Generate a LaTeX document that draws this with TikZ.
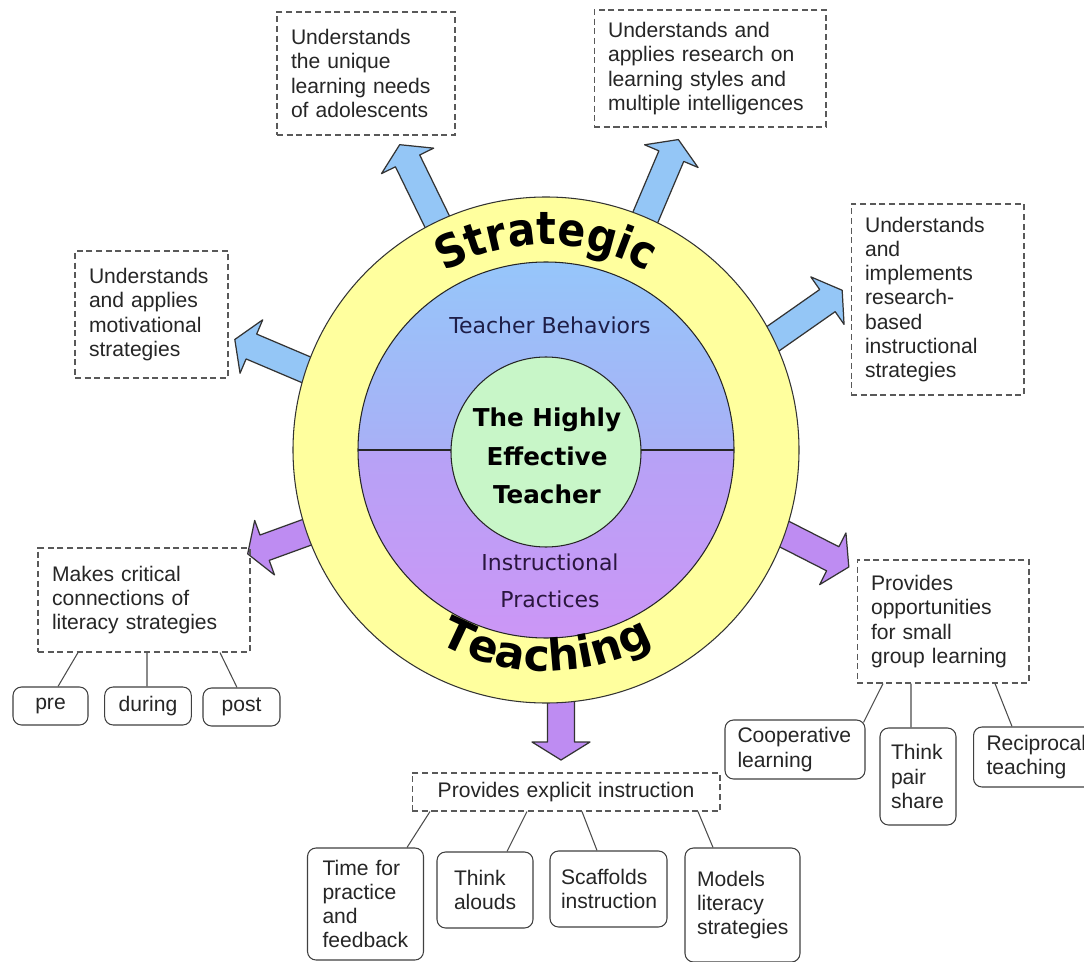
\documentclass[tikz,border=0pt]{standalone}
\usepackage{fontspec}
\setmainfont{Liberation Sans}
\newfontfamily\comicfont{DejaVu Sans}
\newfontfamily\narrowfont{DejaVu Sans Condensed}
\usepackage{tikz}
\usetikzlibrary{decorations.text}
\definecolor{ringyellow}{RGB}{255,255,158}
\definecolor{bluetop}{RGB}{150,198,250}
\definecolor{bluemid}{RGB}{168,176,246}
\definecolor{purpmid}{RGB}{182,162,246}
\definecolor{purpbot}{RGB}{204,150,246}
\definecolor{hubgreen}{RGB}{200,246,200}
\definecolor{arrowblue}{RGB}{148,198,246}
\definecolor{arrowpurple}{RGB}{190,140,242}
\definecolor{textnavy}{RGB}{30,30,72}
\definecolor{textplum}{RGB}{42,22,62}
\newcommand\boxtext{\fontsize{12pt}{13.8pt}\selectfont}
\newcommand\ringword{\narrowfont\bfseries\fontsize{26pt}{30pt}\selectfont}
\newcommand\ringwordb{\comicfont\bfseries\fontsize{25pt}{30pt}\selectfont}
\newcommand\circtext{\comicfont\fontsize{12.5pt}{21pt}\selectfont}
\newcommand\hubtext{\comicfont\bfseries\fontsize{14pt}{22pt}\selectfont}
\tikzset{
  dbox/.style={draw=black!65, dash pattern=on 3.5pt off 2pt, line width=0.6pt, align=left,
    inner xsep=0.28cm, inner ysep=0pt, font=\boxtext, text=black!85},
  rbox/.style={draw=black!75, rounded corners=0.17cm, line width=0.6pt, align=left,
    inner xsep=0.28cm, inner ysep=0pt, font=\boxtext, text=black!85},
  link/.style={draw=black!70, line width=0.6pt},
  pics/fatarrow/.style={code={
    \draw[pic actions, line join=round] (-25,-13.5) -- ({#1-18},-13.5) -- ({#1-18},-29) -- (#1,0)
      -- ({#1-18},29) -- ({#1-18},13.5) -- (-25,13.5) -- cycle;
  }}
}

\begin{document}
\begin{tikzpicture}[x=0.02cm, y=0.02cm]
\fill[white] (0,0) rectangle (1084,-962);
\useasboundingbox (0,0) rectangle (1084,-962);
\coordinate (C) at (546,-450);

\pic[fill=arrowblue, draw=black!80, line width=0.7pt, rotate=116] at (433,-213) {fatarrow=76};
\pic[fill=arrowblue, draw=black!80, line width=0.7pt, rotate=67] at (651,-204) {fatarrow=70};
\pic[fill=arrowblue, draw=black!80, line width=0.7pt, rotate=35] at (784,-331) {fatarrow=71};
\pic[fill=arrowblue, draw=black!80, line width=0.7pt, rotate=157] at (302,-368) {fatarrow=73};
\pic[fill=arrowpurple, draw=black!80, line width=0.7pt, rotate=200] at (305,-533) {fatarrow=61};
\pic[fill=arrowpurple, draw=black!80, line width=0.7pt, rotate=-27] at (790,-537) {fatarrow=66};
\pic[fill=arrowpurple, draw=black!80, line width=0.7pt, rotate=-90] at (561,-700) {fatarrow=60};

\draw[fill=ringyellow, draw=black!80, line width=0.6pt] (C) circle[radius=253];
\shade[top color=bluetop, bottom color=bluemid] ([shift={(180:188)}]C) arc[start angle=180, end angle=0, radius=188] -- cycle;
\shade[top color=purpmid, bottom color=purpbot] ([shift={(0:188)}]C) arc[start angle=0, end angle=-180, radius=188] -- cycle;
\draw[black!85, line width=0.6pt] ([shift={(180:188)}]C) -- ([shift={(0:188)}]C);
\draw[black!85, line width=0.6pt] (C) circle[radius=188];
\draw[fill=hubgreen, draw=black!85, line width=0.6pt] ([yshift=-0.04cm]C) circle[radius=95];

\path[decorate, decoration={text along path, text align=center, text={|\ringword|Strategic}}]
  ([shift={(152:205)}]C) arc[start angle=152, end angle=28, radius=205];
\path[decorate, decoration={text along path, text align=center, text={|\ringwordb|Teaching}}]
  ([shift={(210:221)}]C) arc[start angle=210, end angle=330, radius=221];

\node[font=\circtext, text=textnavy] (behave) at (550,-325) {Teacher Behaviors};
\node[font=\hubtext, align=center] (hub) at (547,-456) {The Highly\\Effective\\Teacher};
\node[font=\circtext, text=textplum, align=center] (practice) at (550,-581) {Instructional\\Practices};

\node[dbox, text width=3.0cm, minimum height=2.46cm] (needs) at (366,-73.5) {Understands\\the unique\\learning needs\\of adolescents};
\node[dbox, text width=4.08cm, minimum height=2.34cm] (styles) at (710,-68.5) {Understands and\\applies research on\\learning styles and\\multiple intelligences};
\node[dbox, text width=2.9cm, minimum height=3.82cm] (implement) at (937.5,-299.5) {Understands\\and\\implements\\research-\\based\\instructional\\strategies};
\node[dbox, text width=2.5cm, minimum height=2.54cm] (motivate) at (151.5,-314.5) {Understands\\and applies\\motivational\\strategies};
\node[dbox, text width=3.68cm, minimum height=2.08cm] (critical) at (144,-600) {Makes critical\\connections of\\literacy strategies};
\node[dbox, text width=2.88cm, minimum height=2.46cm] (group) at (943,-621.5) {Provides\\opportunities\\for small\\group learning};
\node[dbox, align=center, text width=5.6cm, minimum height=0.76cm] (explicit) at (566,-792) {Provides explicit instruction};

\node[rbox, minimum width=1.5cm, minimum height=0.76cm] (pre) at (50.5,-706) {pre};
\node[rbox, minimum width=1.6cm, minimum height=0.76cm] (during) at (148,-706) {during};
\node[rbox, minimum width=1.54cm, minimum height=0.76cm] (post) at (241.5,-707) {post};

\node[rbox, inner xsep=0.25cm, text width=2.3cm, minimum height=1.18cm] (coop) at (795,-749.5) {Cooperative\\learning};
\node[rbox, inner xsep=0.22cm, text width=1.08cm, minimum height=1.94cm] (pair) at (918,-776.5) {Think\\pair\\share};
\node[rbox, inner xsep=0.26cm, text width=2.0cm, minimum height=1.2cm] (recip) at (1036.5,-757) {Reciprocal\\teaching};

\node[rbox, inner xsep=0.3cm, text width=1.72cm, minimum height=2.24cm] (practise) at (365.5,-904) {Time for\\practice\\and\\feedback};
\node[rbox, inner xsep=0.34cm, text width=1.24cm, minimum height=1.52cm] (alouds) at (485,-890) {Think\\alouds};
\node[rbox, inner xsep=0.22cm, text width=1.9cm, minimum height=1.52cm] (scaffold) at (608.5,-889) {Scaffolds\\instruction};
\node[rbox, inner xsep=0.24cm, text width=1.82cm, minimum height=2.28cm] (models) at (742.5,-905) {Models\\literacy\\strategies};

\draw[link] ([xshift=-1.32cm]critical.south) -- ([xshift=0.15cm]pre.north);
\draw[link] ([xshift=0.06cm]critical.south) -- ([xshift=-0.02cm]during.north);
\draw[link] ([xshift=1.52cm]critical.south) -- ([xshift=-0.09cm]post.north);

\draw[link] ([xshift=-1.2cm]group.south) -- ([xshift=-0.04cm,yshift=-0.06cm]coop.north east);
\draw[link] ([xshift=-0.64cm]group.south) -- ([xshift=-0.14cm]pair.north);
\draw[link] ([xshift=1.04cm]group.south) -- ([xshift=-0.49cm]recip.north);

\draw[link] ([xshift=-2.72cm]explicit.south) -- ([xshift=0.83cm]practise.north);
\draw[link] ([xshift=-0.78cm]explicit.south) -- ([xshift=0.44cm]alouds.north);
\draw[link] ([xshift=0.32cm]explicit.south) -- ([xshift=-0.23cm]scaffold.north);
\draw[link] ([xshift=2.64cm]explicit.south) -- ([xshift=-0.59cm]models.north);
\end{tikzpicture}
\end{document}
